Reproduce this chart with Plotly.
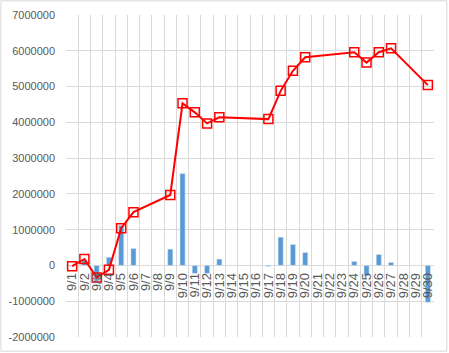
import plotly.graph_objects as go

dates = [f"9/{d}" for d in range(1, 31)]

daily = [-20000, 160000, -440000, 230000, 1120000, 475000, None, None, 456000, 2570000,
         -224000, -224000, 177000, None, None, None, -30000, 791000, 587000, 363000,
         None, None, None, 112000, -290000, 307000, 84000, None, None, -1030000]

cumulative = [-20000, 180000, -340000, -120000, 1040000, 1490000, None, None, 1970000, 4530000,
              4280000, 3970000, 4140000, None, None, None, 4090000, 4880000, 5440000, 5820000,
              None, None, None, 5960000, 5670000, 5960000, 6070000, None, None, 5040000]

y_ticks = list(range(-2000000, 7000001, 1000000))
y_min, y_max = -2000000, 7000000

fig = go.Figure()
fig.add_trace(go.Bar(x=dates, y=daily, marker_color="#5B9BD5", width=0.42, showlegend=False))
fig.add_trace(go.Scatter(x=dates, y=cumulative, mode="lines+markers", connectgaps=True,
                         line=dict(color="#FF0000", width=2),
                         marker=dict(symbol="square-open", size=9, color="#FF0000",
                                     line=dict(width=1.5, color="#FF0000")),
                         showlegend=False))

grid = "#D9D9D9"
fig.update_layout(
    width=449, height=353,
    margin=dict(l=66, r=15, t=15, b=16, autoexpand=False),
    plot_bgcolor="white", paper_bgcolor="white",
    font=dict(family="Liberation Sans", size=11, color="#595959"),
    bargap=0.5,
    xaxis=dict(type="category", categoryorder="array", categoryarray=dates,
               tickmode="array", tickvals=dates, ticktext=dates,
               tickson="boundaries", showgrid=True, gridcolor=grid, gridwidth=1,
               tickangle=-90, ticks="", showline=False, zeroline=False,
               anchor="free", position=(0 - y_min) / (y_max - y_min), automargin=False,
               ticklabelstandoff=4,
               range=[-0.5, 29.5], tickfont=dict(size=13, color="#595959")),
    yaxis=dict(range=[y_min, y_max], tickvals=y_ticks, ticktext=[str(v) for v in y_ticks],
               showgrid=True, gridcolor=grid, gridwidth=1, zeroline=True, automargin=False,
               zerolinecolor=grid, zerolinewidth=1, showline=False, ticks="",
               ticklabelstandoff=10, tickfont=dict(size=11, color="#595959")),
    shapes=[dict(type="rect", xref="paper", yref="paper",
                 x0=-0.177, x1=1.035, y0=-0.044, y1=1.044,
                 line=dict(color="#D9D9D9", width=1), fillcolor="rgba(0,0,0,0)", layer="below")],
)

fig.write_html("out.html")
